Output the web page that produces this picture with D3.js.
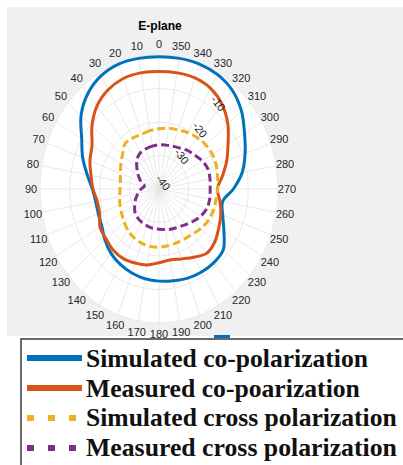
<!DOCTYPE html>
<html>
<head>
<meta charset="utf-8">
<script src="https://cdn.jsdelivr.net/npm/d3@7/dist/d3.min.js"></script>
<style>
  html, body { margin: 0; padding: 0; background: #ffffff; }
  svg { display: block; }
</style>
</head>
<body>
<svg id="chart" width="403" height="465"></svg>
<script>
// Pattern angles (degrees, 0 at top, increasing counter-clockwise)
const angles = [0,10,20,30,40,50,60,70,80,90,100,110,120,130,140,150,160,170,
                180,190,200,210,220,230,240,250,260,270,280,290,300,310,320,330,340,350];

// Gain in dB at each angle
const simCo = [-0.5,-0.4,-0.3,-1.0,-2.8,-5.8,-10.0,-12.7,-15.5,-17.6,-18.4,-18.3,
               -17.8,-16.3,-14.9,-14.0,-13.3,-12.8,-12.5,-12.2,-11.7,-11.4,-11.3,-11.8,
               -14.8,-17.2,-18.3,-15.0,-11.6,-9.2,-6.8,-3.8,-1.6,-0.6,-0.3,-0.4];
const measCo = [-4.9,-4.8,-4.9,-5.8,-7.6,-10.6,-14.0,-15.3,-16.8,-17.8,-18.9,-18.8,
                -17.1,-16.8,-16.1,-16.0,-16.5,-17.0,-18.0,-18.5,-17.8,-16.5,-15.0,-15.5,
                -16.8,-17.9,-19.2,-20.4,-18.4,-15.8,-13.2,-9.8,-7.0,-5.3,-4.7,-4.8];
const simCross = [-22.0,-22.3,-22.6,-22.4,-22.3,-24.0,-25.2,-26.2,-26.8,-26.9,-26.6,-26.0,
                  -25.5,-24.7,-23.8,-23.2,-22.8,-22.6,-22.6,-22.8,-22.9,-22.8,-22.5,-21.6,
                  -21.0,-20.7,-20.6,-20.3,-20.0,-19.5,-19.3,-19.5,-20.0,-20.6,-21.2,-21.6];
const measCross = [-26.8,-27.0,-27.2,-27.5,-28.5,-30.3,-32.0,-33.5,-35.0,-34.0,-32.9,-31.7,
                   -30.6,-29.4,-28.8,-28.5,-28.3,-28.1,-28.0,-27.7,-27.3,-26.9,-26.1,-25.0,
                   -23.8,-22.9,-22.7,-22.8,-22.6,-22.5,-23.2,-24.3,-25.0,-25.9,-26.4,-26.7];

// Axis ticks
const thetaTicks = [0,10,20,30,40,50,60,70,80,90,100,110,120,130,140,150,160,170,
                    180,190,200,210,220,230,240,250,260,270,280,290,300,310,320,330,340,350];
const rTicks = [-40,-30,-20,-10];
const rTickLabels = ["-40","-30","-20","-10"];

const seriesNames = ["Simulated co-polarization","Measured co-poarization",
                     "Simulated cross polarization","Measured cross polarization"];
const seriesColors = ["#0072BD","#D95319","#EDB120","#7E2F8E"];

const svg = d3.select("#chart");
const W = 403, H = 465;

// Figure background
svg.append("rect").attr("x", 7).attr("y", 7).attr("width", W - 7).attr("height", 329)
  .attr("fill", "#f0f0f0");

// Polar axes geometry (plot is slightly taller than wide)
const cx = 159, cy = 189, RX = 119, RY = 134;
const rX = d3.scaleLinear().domain([-40, 0]).range([0, RX]);
const rY = d3.scaleLinear().domain([-40, 0]).range([0, RY]);
const th = d3.scaleLinear().domain([0, 360]).range([0, 2 * Math.PI]);
const px = (a, v) => cx - rX(v) * Math.sin(th(a));
const py = (a, v) => cy - rY(v) * Math.cos(th(a));

const g = svg.append("g");

// White disc
g.append("ellipse").attr("cx", cx).attr("cy", cy).attr("rx", RX).attr("ry", RY)
  .attr("fill", "#ffffff");

// Spokes
g.selectAll("line.spoke").data(thetaTicks).join("line")
  .attr("class", "spoke")
  .attr("x1", cx).attr("y1", cy)
  .attr("x2", d => px(d, 0)).attr("y2", d => py(d, 0))
  .attr("stroke", "#e3e3e3").attr("stroke-width", 0.8);

// Rings
g.selectAll("ellipse.ring").data([-30, -20, -10, 0]).join("ellipse")
  .attr("class", "ring")
  .attr("cx", cx).attr("cy", cy)
  .attr("rx", d => rX(d)).attr("ry", d => rY(d))
  .attr("fill", "none")
  .attr("stroke", d => d === 0 ? "#e6e6e6" : "#e3e3e3").attr("stroke-width", 0.8);

// Angle labels
g.selectAll("text.theta").data(thetaTicks).join("text")
  .attr("class", "theta")
  .attr("x", d => cx - (RX + 9) * Math.sin(th(d)))
  .attr("y", d => cy - (RY + 11) * Math.cos(th(d)))
  .attr("text-anchor", "middle").attr("dominant-baseline", "central")
  .attr("font-family", "'Liberation Sans', Arial, sans-serif")
  .attr("font-size", 11).attr("fill", "#262626")
  .text(d => d);

// Pattern curves
const series = [simCo, measCo, simCross, measCross];
const line = d3.line().x(d => d[0]).y(d => d[1]).curve(d3.curveCatmullRomClosed.alpha(0.5));
series.forEach((vals, i) => {
  const pts = angles.map((a, k) => [px(a, vals[k]), py(a, vals[k])]);
  g.append("path")
    .attr("d", line(pts))
    .attr("fill", "none")
    .attr("stroke", seriesColors[i])
    .attr("stroke-width", 3)
    .attr("stroke-dasharray", i < 2 ? null : "8,4")
    .attr("stroke-linejoin", "round");
});

// Radial tick labels
const rAngle = 322;
g.selectAll("text.rtick").data(rTicks).join("text")
  .attr("class", "rtick")
  .attr("transform", d => {
    const v = d + 2.4;
    return `translate(${px(rAngle, v)},${py(rAngle, v)}) rotate(52)`;
  })
  .attr("text-anchor", "middle").attr("dominant-baseline", "central")
  .attr("font-family", "'Liberation Sans', Arial, sans-serif")
  .attr("font-size", 11).attr("fill", "#262626")
  .text((d, i) => rTickLabels[i]);

// Title
svg.append("text").attr("x", 160).attr("y", 26)
  .attr("text-anchor", "middle").attr("dominant-baseline", "central")
  .attr("font-family", "'Liberation Sans', Arial, sans-serif")
  .attr("font-weight", "bold").attr("font-size", 12).attr("fill", "#000")
  .text("E-plane");

// Small blue mark below the axes
svg.append("rect").attr("x", 214).attr("y", 335).attr("width", 16).attr("height", 3)
  .attr("fill", "#0072BD");

// Legend
const lg = svg.append("g");
lg.append("rect").attr("x", 21).attr("y", 339).attr("width", 400).attr("height", 140)
  .attr("fill", "#ffffff").attr("stroke", "#3a3a3a").attr("stroke-width", 1.5);

const rowY = [358, 388, 418, 448];
const baseY = [367, 397, 426, 456];
const textW = [282, 274, 311, 311];
series.forEach((_, i) => {
  lg.append("line")
    .attr("x1", 27).attr("x2", 82).attr("y1", rowY[i]).attr("y2", rowY[i])
    .attr("stroke", seriesColors[i]).attr("stroke-width", 6)
    .attr("stroke-dasharray", i < 2 ? null : "7,14");
  const t = lg.append("text")
    .attr("x", 86).attr("y", baseY[i])
    .attr("font-family", "'Liberation Serif', 'Times New Roman', serif")
    .attr("font-weight", "bold").attr("font-size", 25).attr("fill", "#111")
    .text(seriesNames[i]);
  const w = t.node().getComputedTextLength();
  t.attr("font-size", 25 * textW[i] / w);
});
</script>
</body>
</html>
